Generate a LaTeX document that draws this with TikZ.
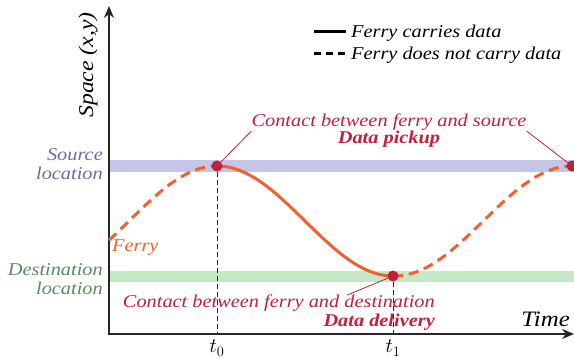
\documentclass[tikz,border=0pt]{standalone}
\usepackage[no-math]{fontspec}
\setmainfont[FakeStretch=1.13]{Liberation Serif}
\usepackage{tikz}
\usetikzlibrary{arrows.meta}
\definecolor{ferrycol}{HTML}{F1612E}
\definecolor{contactcol}{HTML}{C21F3A}
\definecolor{srcband}{HTML}{C5C5E8}
\definecolor{srctext}{HTML}{6B6BA5}
\definecolor{dstband}{HTML}{C4E8C6}
\definecolor{dsttext}{HTML}{5A8A5A}
\definecolor{axiscol}{HTML}{262626}
\begin{document}
\begin{tikzpicture}[x=1pt, y=-1pt,
  every node/.style = {font=\fontsize{18}{16}\selectfont\itshape, inner sep=0pt},
  dot/.style = {circle, fill=contactcol, minimum size=11pt},
  carry/.style = {ferrycol, line width=3pt},
  nocarry/.style = {carry, dash pattern=on 10pt off 6pt},
  ann/.style = {contactcol, line width=0.8pt},
  drop line/.style = {axiscol, line width=0.9pt, dash pattern=on 5pt off 3pt},
  axis line/.style = {axiscol, line width=2.4pt, {Stealth[length=12pt,width=10pt]}-{Stealth[length=12pt,width=10pt]}}]
  \useasboundingbox (0,0) rectangle (574,358);
  \fill[srcband] (109,160) rectangle (574,172);
  \fill[dstband] (109,271) rectangle (574,282);
  \coordinate (o) at (109,334);
  \coordinate (ytip) at (109,6);
  \coordinate (xtip) at (574,334);
  \draw[axis line] (ytip) -- (o) -- (xtip);
  \node[rotate=90, anchor=base, font=\fontsize{21}{21}\selectfont\itshape] (space) at (93,65) {Space (x,y)};
  \node[anchor=base east, font=\fontsize{22}{22}\selectfont\itshape] (time) at (570,327) {Time};
  \node[anchor=base east, srctext] (srclabel) at (103,161) {Source};
  \node[anchor=base east, srctext] (srclabel2) at (103,180) {location};
  \node[anchor=base east, dsttext] (dstlabel) at (103,276) {Destination};
  \node[anchor=base east, dsttext] (dstlabel2) at (103,295) {location};
  \draw[nocarry] plot[domain=109:217, samples=40] (\x, {221-55*cos((\x-217)/176*180)});
  \draw[carry] plot[domain=217:393, samples=60] (\x, {221-55*cos((\x-217)/176*180)});
  \draw[nocarry] plot[domain=393:572, samples=60] (\x, {221-55*cos((\x-217)/177.5*180)});
  \node[dot] (pick) at (217,166) {};
  \node[dot] (drop) at (393,276) {};
  \node[dot] (back) at (572,166) {};
  \draw[drop line] (pick) -- (pick |- o);
  \draw[drop line] (drop) -- (drop |- o);
  \node[anchor=north, yshift=-6pt, font=\fontsize{20}{20}\selectfont] (t0) at (pick |- o) {$t_0$};
  \node[anchor=north, yshift=-6pt, font=\fontsize{20}{20}\selectfont] (t1) at (drop |- o) {$t_1$};
  \node[anchor=base west, ferrycol] (ferrylabel) at (112,252) {Ferry};
  \node[anchor=base, contactcol] (pickup) at (389,127) {Contact between ferry and source};
  \node[anchor=base, contactcol] (pickupbold) at (389,144) {\bfseries Data pickup};
  \node[anchor=base east, contactcol] (delivery) at (435,308) {Contact between ferry and destination};
  \node[anchor=base east, contactcol] (deliverybold) at (435,327) {\bfseries Data delivery};
  \draw[ann] (pickup.south west) -- (pick);
  \draw[ann] (pickup.south east) -- (back);
  \draw[ann] ([xshift=-88pt]delivery.north east) -- (drop);
  \draw[black, line width=3pt] (314,32) -- (346,32);
  \draw[black, line width=3pt, dash pattern=on 7pt off 5pt] (314,54) -- (346,54);
  \node[anchor=base west] (carrylabel) at (351,38) {Ferry carries data};
  \node[anchor=base west] (nocarrylabel) at (351,60) {Ferry does not carry data};
\end{tikzpicture}
\end{document}
